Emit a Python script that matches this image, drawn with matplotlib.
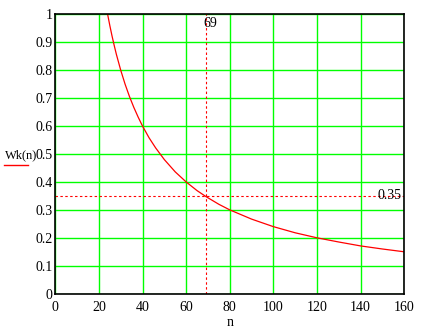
import matplotlib
matplotlib.use("Agg")
import matplotlib.pyplot as plt

n_vals = [23.5, 24, 25, 26, 27, 28, 30, 32, 34, 36, 38, 40, 43, 46, 50, 55,
          60, 65, 69, 75, 80, 90, 100, 110, 120, 130, 140, 150, 160]
wk_vals = [1.02, 1.0, 0.96, 0.923, 0.889, 0.857, 0.80, 0.75, 0.706, 0.667,
           0.632, 0.60, 0.558, 0.522, 0.48, 0.436, 0.40, 0.369, 0.348, 0.32,
           0.30, 0.267, 0.24, 0.218, 0.20, 0.185, 0.171, 0.16, 0.15]
n_mark = 69
wk_mark = 0.35
xticks = list(range(0, 161, 20))
yticks = [i / 10 for i in range(11)]
ytick_labels = ["0", "0.1", "0.2", "0.3", "0.4", "0.5", "0.6", "0.7", "0.8", "0.9", "1"]

plt.rcParams['font.family'] = ['Liberation Serif', 'DejaVu Serif']

fig = plt.figure(figsize=(4.22, 3.33), dpi=100)
ax = fig.add_axes([0.131, 0.118, 0.827, 0.839])

ax.set_xlim(0, 160)
ax.set_ylim(0, 1)
ax.set_xticks(xticks)
ax.set_xticklabels([str(v) for v in xticks])
ax.set_yticks(yticks)
ax.set_yticklabels(ytick_labels)
ax.grid(True, color="#00ff00", linewidth=1.0)
ax.set_axisbelow(True)
ax.tick_params(length=0, labelsize=10, pad=2)
ax.tick_params(axis="x", pad=5)
for s in ax.spines.values():
    s.set_linewidth(1.2)
    s.set_color("black")

ax.plot(n_vals, wk_vals, color="red", linewidth=0.9, clip_on=True)

ax.axvline(n_mark, color="red", linewidth=0.8, linestyle=(0, (2.2, 2.2)))
ax.axhline(wk_mark, color="red", linewidth=0.8, linestyle=(0, (2.2, 2.2)))

ax.text(n_mark - 1.2, 0.99, str(n_mark), ha="left", va="top", fontsize=10)
ax.text(158.5, wk_mark, "0.35", ha="right", va="center", fontsize=10)

ax.set_xlabel("n", fontsize=10, labelpad=2)

# legend-like label on the left
fig.text(5 / 422, 1 - 155 / 333, "Wk(n)", ha="left", va="center", fontsize=9)
fig.add_artist(plt.Line2D([4 / 422, 28 / 422], [1 - 165 / 333, 1 - 165 / 333],
                          color="red", linewidth=1.0))

fig.savefig("out.png", dpi=100)
